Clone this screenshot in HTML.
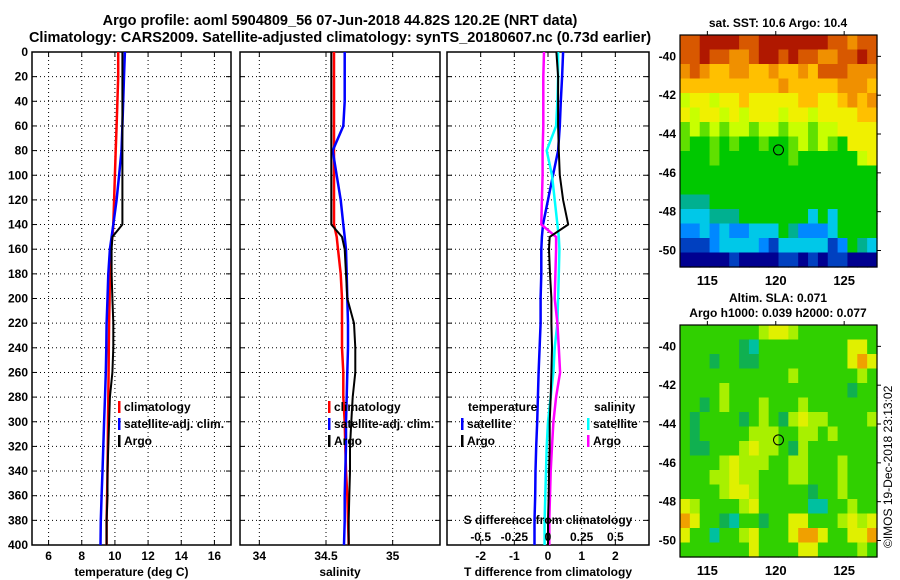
<!DOCTYPE html>
<html><head><meta charset="utf-8"><style>
html,body{margin:0;padding:0;background:#fff;}
svg{display:block;font-family:"Liberation Sans",sans-serif;font-weight:bold;}
</style></head><body>
<svg id="c" width="900" height="580" viewBox="0 0 900 580">
<text x="340" y="25" font-size="14.5" text-anchor="middle">Argo profile: aoml 5904809_56 07-Jun-2018 44.82S 120.2E (NRT data)</text>
<text x="340" y="42" font-size="14.5" text-anchor="middle">Climatology: CARS2009. Satellite-adjusted climatology: synTS_20180607.nc (0.73d earlier)</text>
</svg>
<script>
const depths=[0,20,40,60,80,100,120,140,150,160,180,200,220,240,260,280,300,320,340,360,380,400];
const tempClim=[10.2,10.2,10.15,10.1,10.05,10.0,9.95,9.9,9.85,9.75,9.7,9.68,9.65,9.63,9.62,9.6,9.58,9.57,9.55,9.53,9.5,9.5];
const tempSat=[10.6,10.55,10.5,10.45,10.4,10.25,10.1,9.9,9.8,9.7,9.6,9.55,9.5,9.48,9.45,9.4,9.35,9.3,9.25,9.2,9.15,9.13];
const tempArgo=[10.45,10.45,10.45,10.45,10.45,10.45,10.45,10.45,9.85,9.8,9.8,9.85,9.9,9.9,9.85,9.7,9.65,9.6,9.55,9.55,9.5,9.5];
const salClim=[34.56,34.56,34.56,34.56,34.56,34.56,34.56,34.56,34.58,34.59,34.61,34.62,34.62,34.62,34.63,34.63,34.64,34.645,34.65,34.66,34.665,34.67];
const salSat=[34.64,34.64,34.64,34.63,34.55,34.58,34.61,34.63,34.64,34.65,34.655,34.66,34.665,34.665,34.66,34.655,34.65,34.65,34.645,34.64,34.64,34.635];
const salArgo=[34.54,34.54,34.54,34.54,34.54,34.54,34.54,34.54,34.62,34.64,34.65,34.66,34.71,34.72,34.72,34.7,34.69,34.68,34.68,34.675,34.67,34.67];
const tDiffArgo=[0.25,0.3,0.3,0.3,0.32,0.35,0.45,0.6,0.05,0.03,0.06,0.1,0.1,0.12,0.1,0.08,0.05,0.05,0.03,0.02,0.0,0.0];
const tDiffSat=[0.45,0.42,0.38,0.35,0.3,0.15,0.0,-0.15,-0.18,-0.2,-0.2,-0.22,-0.22,-0.25,-0.28,-0.3,-0.32,-0.35,-0.37,-0.38,-0.4,-0.4];
const sDiffSat=[0.075,0.075,0.07,0.06,-0.01,0.03,0.05,0.07,0.08,0.085,0.08,0.075,0.07,0.05,0.04,0.02,0.0,-0.01,-0.015,-0.02,-0.025,-0.025];
const sDiffArgo=[-0.03,-0.035,-0.035,-0.035,-0.04,-0.04,-0.045,-0.05,0.06,0.06,0.055,0.05,0.07,0.08,0.09,0.06,0.04,0.03,0.02,0.015,0.01,0.01];
const depthTicks=[0,20,40,60,80,100,120,140,160,180,200,220,240,260,280,300,320,340,360,380,400];
const tempTicks=[6,8,10,12,14,16];
const salTicks=[34,34.5,35];
const tDiffTicks=[-2,-1,0,1,2];
const sDiffTicks=[-0.5,-0.25,0,0.25,0.5];
const lonTicks=[115,120,125];
const latTicks=[-40,-42,-44,-46,-48,-50];
const argoLon=120.2, argoLat=-44.82;
const sstRows=["OORRRROORRRRRRROOoOO","OOROOooORROROOooOORO","oOoYYooYYoYYoYOOOooo","YYYYYYYYYYoYYYYYoooY","LyyLyyYyyyyyYYyyYoYo","yLyyLyLyyyLyyLyyyyYY","gLgLgLLgLLgLLgLLyyyy","gGGgGgGGgGGgLgLgGyyy","GGGgGGGGGGGgGGGGGGLy","GGGGGGGGGGGGGGGGGGGG","GGGGGGGGGGGGGGGGGGGG","TTTGGGGGGGGGGGGGGGGG","CCCTTTGGGGGGGCGCGGGG","BBCBCBBCCCGTBBBCGGGG","bbbBCCCCBbCCCCCbBGTC","NNNNNbNNNNbbNbNbbNNN"];
const slaRows=["GGGGGGGGLYYLGGGGGGGG","GGGGGGDCGGGGGGGGGYYG","GGGDGGDDGGGGGGGGGYOY","GGGGGGGGGGGLGGGGGGLG","GGGGLGGGGGGGGGGGGDGG","GGDGLGGGLGGGLGGGGGGG","GDGGGGDGLGDLYLLGGGGL","GDGGGGGLLLGGLLGLGGGG","GDDGGGLYLLGDLGGGGGGG","GGGGLYLLLGGLLGGGLGGG","GGGLLYLLGGGLLGGGLGGG","GGGGLYYLGGGGGDGGLGGG","YLGGGGLYGGGGGCCGGLGG","OYGGDCGGDGGYYGGGLYLY","YGGCGGLYGGGYOOYGGYYO","GGGGGGGYGGGGYYGGGGLG"];
const sstCol={R:"#b01800",O:"#d85800",o:"#f09000",Y:"#ffc000",y:"#f0f000",L:"#c8ff00",g:"#60e000",G:"#00c800",T:"#00b090",C:"#00c8e8",B:"#0088ff",b:"#0040c0",N:"#000090"};
const slaCol={G:"#30d000",D:"#10b050",L:"#a8f000",Y:"#e0f000",O:"#f0a000",C:"#00c0a0"};

const svg=document.getElementById('c');
const NS="http://www.w3.org/2000/svg";
function mk(tag,attrs,parent){const e=document.createElementNS(NS,tag);for(const k in attrs)e.setAttribute(k,attrs[k]);(parent||svg).appendChild(e);return e;}
const TOP=52,BOT=545;
const yD=d=>TOP+(d/400)*(BOT-TOP);

function panel(name,x0,x1,xmin,xmax,ticks,labelFn,title,showY){
  const g=mk('g',{});
  
  
  const sx=v=>x0+(v-xmin)/(xmax-xmin)*(x1-x0);
  depthTicks.forEach(d=>{
    if(d>0&&d<400){const l=mk('line',{x1:x0,x2:x1,y1:yD(d),y2:yD(d),stroke:'#000','stroke-width':1,'stroke-dasharray':'1,3'},g);
    }
    mk('line',{x1:x0,x2:x0+5,y1:yD(d),y2:yD(d),stroke:'#000'},g);
    mk('line',{x1:x1-5,x2:x1,y1:yD(d),y2:yD(d),stroke:'#000'},g);
    if(showY){const t=mk('text',{x:28,y:yD(d)+4,'font-size':12,'text-anchor':'end'},g);t.textContent=d;
      }
  });
  ticks.forEach(v=>{
    const x=sx(v);
    const l=mk('line',{x1:x,x2:x,y1:TOP,y2:BOT,stroke:'#000','stroke-dasharray':'1,3'},g);
    
    mk('line',{x1:x,x2:x,y1:BOT-5,y2:BOT,stroke:'#000'},g);
    mk('line',{x1:x,x2:x,y1:TOP,y2:TOP+5,stroke:'#000'},g);
    const t=mk('text',{x:x,y:560,'font-size':12,'text-anchor':'middle'},g);t.textContent=labelFn(v);
    
  });
  const r=mk('rect',{x:x0,y:TOP,width:x1-x0,height:BOT-TOP,fill:'none',stroke:'#000','stroke-width':1.5},g);
  
  const tt=mk('text',{x:(x0+x1)/2,y:576,'font-size':12,'text-anchor':'middle'},g);tt.textContent=title;
  
  return {g,sx};
}
function series(p,vals,color,name,w,sx){
  const f=sx||p.sx;
  const pts=vals.map((v,i)=>f(v).toFixed(1)+','+yD(depths[i]).toFixed(1)).join(' ');
  const e=mk('polyline',{points:pts,fill:'none',stroke:color,'stroke-width':w||2.5,'stroke-linejoin':'round'},p.g);
  
  
}
function legend(g,x,y,color,label,name){
  mk('rect',{x:x,y:y-10,width:2.5,height:12,fill:color},g);
  const t=mk('text',{x:x+6,y:y,'font-size':12},g);t.textContent=label;
  
}

const p1=panel('temperature',32,231,5,17,tempTicks,v=>v,'temperature (deg C)',true);
series(p1,tempClim,'#ff0000','temp-climatology-line');
series(p1,tempSat,'#0000ff','temp-satellite-line');
series(p1,tempArgo,'#000','temp-argo-line',2);
legend(p1.g,118,411,'#ff0000','climatology','legend-climatology');
legend(p1.g,118,428,'#0000ff','satellite-adj. clim.','legend-satellite');
legend(p1.g,118,445,'#000','Argo','legend-argo');

const p2=panel('salinity',240,440,33.855,35.355,salTicks,v=>v,'salinity',false);
series(p2,salClim,'#ff0000','sal-climatology-line');
series(p2,salSat,'#0000ff','sal-satellite-line');
series(p2,salArgo,'#000','sal-argo-line',2);
legend(p2.g,328,411,'#ff0000','climatology','legend-climatology-sal');
legend(p2.g,328,428,'#0000ff','satellite-adj. clim.','legend-satellite-sal');
legend(p2.g,328,445,'#000','Argo','legend-argo-sal');

const p3=panel('difference',447,649,-3,3,tDiffTicks,v=>v,'T difference from climatology',false);
const sxS=v=>447+(v+0.75)/1.5*(649-447);
series(p3,tDiffSat,'#0000ff','tdiff-satellite-line');
series(p3,sDiffSat,'#00ffff','sdiff-satellite-line',2.5,sxS);
series(p3,sDiffArgo,'#ff00ff','sdiff-argo-line',2.5,sxS);
series(p3,tDiffArgo,'#000','tdiff-argo-line',2);
(function(){const g=p3.g;
 let t=mk('text',{x:468,y:411,'font-size':12},g);t.textContent='temperature';
 t=mk('text',{x:594,y:411,'font-size':12},g);t.textContent='salinity';
 legend(g,461,428,'#0000ff','satellite','legend-t-satellite');
 legend(g,461,445,'#000','Argo','legend-t-argo');
 legend(g,587,428,'#00ffff','satellite','legend-s-satellite');
 legend(g,587,445,'#ff00ff','Argo','legend-s-argo');
 t=mk('text',{x:548,y:524,'font-size':12,'text-anchor':'middle'},g);t.textContent='S difference from climatology';
 sDiffTicks.forEach(v=>{const tt=mk('text',{x:sxS(v),y:541,'font-size':12,'text-anchor':'middle'},g);tt.textContent=v;
  });
})();

function map(name,y0,y1,rows,cols,titles){
  const g=mk('g',{});
  
  
  const x0=680,x1=877;
  const lonX=l=>x0+(l-113)*(x1-x0)/14.4;
  const latY=l=>y0+(-38.9-l)*(y1-y0)/11.95;
  const nr=rows.length,nc=rows[0].length,cw=(x1-x0)/nc,ch=(y1-y0)/nr;
  rows.forEach((row,r)=>{for(let c=0;c<nc;c++){mk('rect',{x:(x0+c*cw).toFixed(2),y:(y0+r*ch).toFixed(2),width:(cw+0.6).toFixed(2),height:(ch+0.6).toFixed(2),fill:cols[row[c]]},g);}});
  mk('rect',{x:x0,y:y0,width:x1-x0,height:y1-y0,fill:'none',stroke:'#000','stroke-width':1.2},g);
  lonTicks.forEach(l=>{mk('line',{x1:lonX(l),x2:lonX(l),y1:y0-4,y2:y0,stroke:'#000'},g);
    const t=mk('text',{x:lonX(l),y:y1+18,'font-size':13,'text-anchor':'middle'},g);t.textContent=l;
    });
  latTicks.forEach(l=>{mk('line',{x1:x1,x2:x1+4,y1:latY(l),y2:latY(l),stroke:'#000'},g);
    const t=mk('text',{x:676,y:latY(l)+4,'font-size':12,'text-anchor':'end'},g);t.textContent=l;
    });
  const c=mk('circle',{cx:lonX(argoLon),cy:latY(argoLat),r:5,fill:'none',stroke:'#000','stroke-width':1},g);
  
  titles.forEach((tx,i)=>{const t=mk('text',{x:778,y:y0-8-(titles.length-1-i)*15,'font-size':12,'text-anchor':'middle'},g);t.textContent=tx;
    });
}
map('sst-map',35,267,sstRows,sstCol,['sat. SST: 10.6 Argo: 10.4']);
map('sla-map',325,557,slaRows,slaCol,['Altim. SLA: 0.071','Argo h1000: 0.039 h2000: 0.077']);
const cr=mk('text',{x:0,y:0,'font-size':12,'font-weight':'normal',transform:'translate(892,548) rotate(-90)'});
cr.textContent='\u00A9IMOS 19-Dec-2018 23:13:02';


</script>
</body></html>
